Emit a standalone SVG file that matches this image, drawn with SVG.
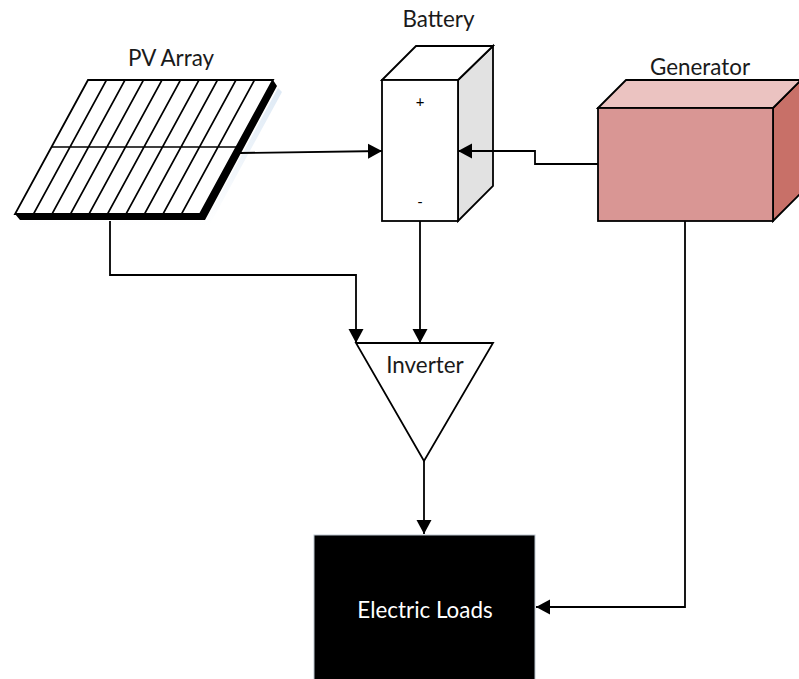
<svg xmlns="http://www.w3.org/2000/svg" width="799" height="679" viewBox="0 0 799 679">
<defs>
<marker id="arrow" markerUnits="userSpaceOnUse" markerWidth="14" markerHeight="16" refX="14" refY="8" orient="auto"><path d="M0,0.500 L14,8 L0,15.500 Z" fill="#000"/></marker>
<linearGradient id="glow" x1="0" y1="0" x2="0" y2="1"><stop offset="0" stop-color="#bcd3ea" stop-opacity="0.5"/><stop offset="1" stop-color="#bcd3ea" stop-opacity="0"/></linearGradient>
</defs>
<style>
text{font-family:"Lato","Liberation Sans",sans-serif;font-size:22.4px;fill:#1a1a1a;text-anchor:middle}
.s{fill:none;stroke:#000;stroke-width:1.6}
.n{stroke:#000;stroke-width:1.8;stroke-linejoin:miter}
.c{fill:none;stroke:#000;stroke-width:1.8;marker-end:url(#arrow)}
</style>
<g id="pv-array">
<path d="M20,221 L206,221 L278,88 L282,92 L209,226 L22,226 Z" fill="url(#glow)"/>
<path d="M20,220 H205 L277,86 L273,80 L200,214 L15,214 Z" fill="#000"/>
<path class="n" d="M88,80 H273 L200,214 H15 Z" fill="#fff"/>
<path class="s" d="M106.500,80 L33.500,214 M125,80 L52,214 M143.500,80 L70.500,214 M162,80 L89,214 M180.500,80 L107.500,214 M199,80 L126,214 M217.500,80 L144.500,214 M236,80 L163,214 M254.500,80 L181.500,214 M51,147 H236"/>
<text x="171" y="66">PV Array</text>
</g>
<g id="battery">
<path class="n" d="M458,80 L493,46 V186 L458,221 Z" fill="#e2e2e2"/>
<path class="n" d="M382,80 L416,46 H493 L458,80 Z" fill="#fff"/>
<rect class="n" x="382" y="80" width="76" height="141" fill="#fff"/>
<text x="438.500" y="27">Battery</text>
<text x="420" y="107" style="font-size:15px;fill:#000">+</text>
<text x="420" y="207" style="font-size:15px;fill:#000">-</text>
</g>
<g id="generator">
<path class="n" d="M773,108 L801,80 V193 L773,221 Z" fill="#c87068"/>
<path class="n" d="M598,108 L626,80 H801 L773,108 Z" fill="#ebc3c1"/>
<rect class="n" x="598" y="108" width="175" height="113" fill="#d99694"/>
<text x="700" y="75">Generator</text>
</g>
<g id="inverter">
<path class="n" d="M356,343 H493 L424,461 Z" fill="#fff"/>
<text x="425" y="373">Inverter</text>
</g>
<g id="electric-loads">
<rect x="314" y="535" width="221" height="150" fill="#000" stroke="#bcc6d0" stroke-width="1"/>
<text x="425" y="618" style="fill:#fff">Electric Loads</text>
</g>
<g id="connectors">
<path class="c" d="M240,153 L382,151"/>
<path class="c" d="M598,164 H535 V151 H458"/>
<path class="c" d="M110,221 V275 H356 V343"/>
<path class="c" d="M420,221 V343"/>
<path class="c" d="M424,461 V534"/>
<path class="c" d="M685,221 V607 H536"/>
</g>
</svg>
